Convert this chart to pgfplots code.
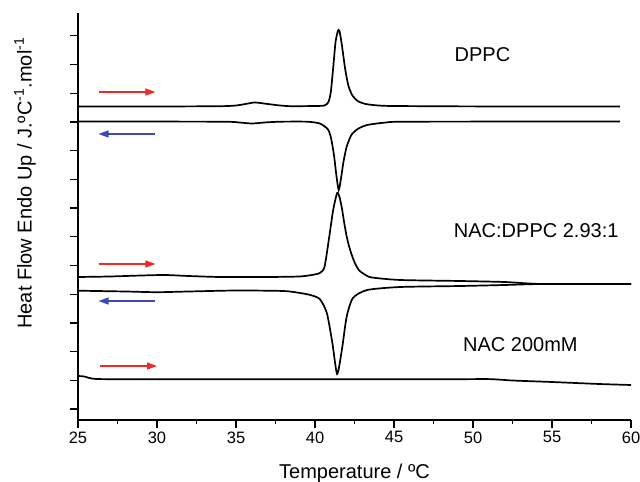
\documentclass[border=0pt]{standalone}
\usepackage{fontspec}
\setmainfont{Liberation Sans}
\usepackage{pgfplots}
\pgfplotsset{compat=1.18}
\usetikzlibrary{arrows.meta}

\definecolor{arrred}{RGB}{240,40,40}
\definecolor{arrblue}{RGB}{60,72,180}

\begin{document}
\begin{tikzpicture}
  \begin{axis}[
      name=ax,
      scale only axis,
      width=553pt, height=407pt,
      xmin=25, xmax=60,
      ymin=0, ymax=407,
      axis lines=left,
      axis line style={-, line width=1.2pt},
      xtick={25,30,...,60},
      minor x tick num=1,
      ytick={11,39.7,68.4,97.1,125.8,154.5,183.2,211.9,240.6,269.3,298,326.7,355.4,384.1},
      yticklabels={},
      tick align=outside,
      major tick length=8pt,
      minor tick length=4pt,
      tick style={line width=1.2pt, black},
      /pgf/number format/assume math mode=true,
      ticklabel style={font=\fontsize{16.5}{19}\selectfont},
      xlabel={Temperature / ºC},
      ylabel={Heat Flow Endo Up / J.ºC\textsuperscript{-1}.mol\textsuperscript{-1}},
      label style={font=\fontsize{20}{24}\selectfont},
      xlabel style={at={([yshift=-53pt]axis description cs:0.5,0)}, anchor=center},
      ylabel style={at={([xshift=-53pt]axis description cs:0,0.582)}, anchor=center},
      curve/.style={black, line width=1.7pt, mark=none, smooth, tension=0.4},
      clip=false,
    ]
    % DPPC heating
    \addplot[curve] coordinates {
      (25,313.5) (30,313.5) (34,313.8) (35,314.5) (35.6,316) (36.2,317.5) (37,316)
      (37.8,314.5) (38.5,313.8) (40,314) (40.6,314.5) (40.85,318) (41.0,328)
      (41.15,352) (41.3,378) (41.45,389) (41.55,389) (41.7,375) (41.9,352)
      (42.1,335) (42.35,325) (42.7,319) (43.2,316) (44,314.5) (45,314)
      (50,313.6) (59.3,313.5)
    };
    % DPPC cooling
    \addplot[curve] coordinates {
      (25,298.5) (34,298.3) (35.2,297.5) (36,296.5) (36.8,297.5) (37.8,298.3)
      (39.5,298.3) (40.3,296.5) (40.8,291) (41.0,283) (41.2,265) (41.35,245)
      (41.5,230) (41.65,242) (41.8,258) (42.0,273) (42.3,285) (42.7,291)
      (43.3,295) (44.5,297.5) (46,298.3) (59.3,298.5)
    };
    % NAC:DPPC heating
    \addplot[curve] coordinates {
      (25,143) (27,143.5) (29,144.5) (30.5,145) (32,144) (34,143) (37,143)
      (39,143.5) (39.8,145) (40.3,147) (40.6,153) (40.9,183) (41.15,210)
      (41.4,227) (41.55,223) (41.7,212) (41.85,197) (42.0,184) (42.15,174)
      (42.35,164) (42.55,156) (42.8,149.5) (43.2,145) (43.6,142.5)
      (45.4,140) (49.2,139) (52,138) (54.4,136) (60,136)
    };
    % NAC:DPPC cooling
    \addplot[curve] coordinates {
      (25,129.3) (28,128.5) (30,127.8) (32,128.5) (35,129.5) (38,129)
      (39.05,127) (39.7,125) (40.3,121) (40.75,107) (41.1,77) (41.4,46)
      (41.7,70) (42.0,103) (42.4,122) (43.3,130) (45.4,133) (49.2,134)
      (52,135) (54.4,136) (60,136)
    };
    % NAC 200mM
    \addplot[curve] coordinates {
      (25,44) (25.4,43.5) (26.2,41) (30,40.8) (40,40.8) (47.9,40.7)
      (51,40.9) (52.5,39.5) (55,38) (58,36) (60,35)
    };

    \tikzset{arr/.style={line width=1.3pt, -{Triangle[length=10pt,width=7pt]}}}
    \draw[arr, arrred]  (axis cs:26.3,328) -- (axis cs:29.9,328);
    \draw[arr, arrblue] (axis cs:29.9,286) -- (axis cs:26.3,286);
    \draw[arr, arrred]  (axis cs:26.3,156) -- (axis cs:29.9,156);
    \draw[arr, arrblue] (axis cs:29.9,119) -- (axis cs:26.3,119);
    \draw[arr, arrred]  (axis cs:26.4,54) -- (axis cs:30.0,54);

    \node[font=\fontsize{20}{24}\selectfont] at (axis cs:50.6,365) {DPPC};
    \node[font=\fontsize{20}{24}\selectfont] at (axis cs:54.0,189) {NAC:DPPC 2.93:1};
    \node[font=\fontsize{20}{24}\selectfont] at (axis cs:53.0,75.5) {NAC 200mM};
  \end{axis}
  \pgfresetboundingbox
  \path ([shift={(-78pt,-61pt)}]ax.south west) rectangle ([shift={(9pt,13pt)}]ax.north east);
\end{tikzpicture}
\end{document}
